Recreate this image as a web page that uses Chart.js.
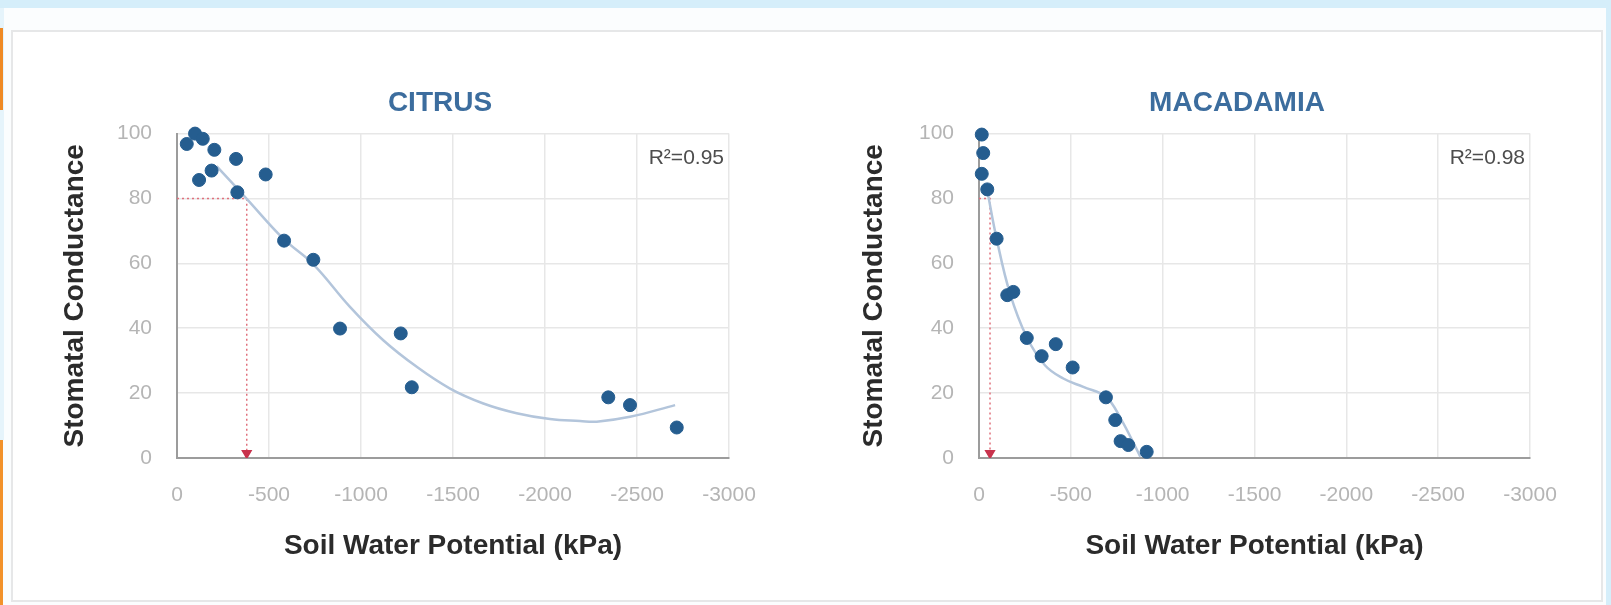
<!DOCTYPE html>
<html>
<head>
<meta charset="utf-8">
<script src="https://cdn.jsdelivr.net/npm/chart.js@4.4.1/dist/chart.umd.min.js"></script>
<style>
  html, body { margin: 0; padding: 0; background: #ffffff; overflow: hidden; }
  #page { position: relative; width: 1611px; height: 605px; overflow: hidden; background: #fbfdfe; }
  .strip { position: absolute; }
  #card { position: absolute; left: 11px; top: 30px; width: 1592px; height: 572px;
          background: #ffffff; border: 2px solid #e6e7e8; box-sizing: border-box; }
  canvas { position: absolute; }
</style>
</head>
<body>
<div id="page">
  <div class="strip" style="left:0;top:0;width:1611px;height:8px;background:#d5eefa;"></div>
  <div class="strip" style="left:1606px;top:0;width:5px;height:605px;background:#d5eefa;"></div>
  <div class="strip" style="left:0;top:8px;width:4px;height:432px;background:#e6f4fb;"></div>
  <div class="strip" style="left:0;top:28px;width:3px;height:82px;background:#ef8a25;"></div>
  <div class="strip" style="left:0;top:440px;width:3px;height:165px;background:#f2922b;"></div>
  <div id="card"></div>
  <canvas id="citrusChart" width="766" height="540" style="left:57px;top:60px;"></canvas>
  <canvas id="macChart" width="762" height="540" style="left:856px;top:60px;"></canvas>
</div>
<script>
// citrus measurements
const citrusX = [-53, -98, -140, -203, -321, -188, -120, -482, -328, -582, -741, -886, -1216, -1276, -2344, -2462, -2716];
const citrusY = [96.8, 100, 98.4, 95, 92.2, 88.6, 85.7, 87.4, 81.9, 67, 61.1, 39.9, 38.4, 21.8, 18.7, 16.3, 9.4];
// citrus trend line
const citrusFitX = [-215, -379, -578, -741, -940, -1121, -1303, -1484, -1665, -1846, -2027, -2190, -2281, -2462, -2707];
const citrusFitY = [90, 79.9, 67.6, 59.7, 46.6, 36.3, 28.1, 21.4, 16.8, 13.8, 12, 11.4, 11.2, 12.7, 16.3];
// citrus 80% guide
const citrusGuideX = [0, -379, -379];
const citrusGuideY = [80, 80, 1.5];

// macadamia measurements
const macX = [-15, -23, -15, -45, -96, -154, -187, -260, -341, -418, -510, -691, -742, -771, -813, -913];
const macY = [99.7, 94, 87.6, 82.8, 67.6, 50.2, 51.2, 37, 31.4, 35.1, 27.9, 18.7, 11.7, 5.2, 4, 1.9];
const macFitX = [-45, -96, -169, -260, -359, -459, -568, -691, -776, -851, -878];
const macFitY = [82.5, 67.6, 50.7, 37.3, 28.6, 24.5, 21.9, 18.9, 11.7, 3.5, 0.4];
const macGuideX = [0, -60, -60];
const macGuideY = [80, 80, 1.5];

const xTicks = [0, -500, -1000, -1500, -2000, -2500, -3000];
const yTicks = [0, 20, 40, 60, 80, 100];

const xTitle = "Soil Water Potential (kPa)";
const yTitle = "Stomatal Conductance";

function toPoints(xs, ys) {
  return xs.map((x, i) => ({ x: x, y: ys[i] }));
}

const rSquaredPlugin = {
  id: "rSquared",
  afterDatasetsDraw(chart, args, opts) {
    const { ctx, chartArea } = chart;
    ctx.save();
    ctx.font = "21px 'Liberation Sans', Arial, sans-serif";
    ctx.fillStyle = "#4d4d4d";
    ctx.textAlign = "right";
    ctx.textBaseline = "middle";
    ctx.fillText(opts.text, chartArea.right - 5, chartArea.top + 25);
    ctx.restore();
  },
};

// the title sits a bit left of the plot centre in the picture
const titleShiftPlugin = {
  id: "titleShift",
  afterLayout(chart, args, opts) {
    const tb = chart.titleBlock;
    if (!tb) return;
    const w = tb.right - tb.left;
    tb.left = opts.center - w / 2;
    tb.right = tb.left + w;
  },
};

function makeChart(id, cfg) {
  const ctx = document.getElementById(id).getContext("2d");
  return new Chart(ctx, {
    type: "scatter",
    data: {
      datasets: [
        {
          label: "measured",
          data: toPoints(cfg.x, cfg.y),
          backgroundColor: "#255d8f",
          borderColor: "#255d8f",
          pointRadius: 6.5,
          pointHoverRadius: 6.5,
          clip: 12,
        },
        {
          label: "fit",
          type: "line",
          data: toPoints(cfg.fitX, cfg.fitY),
          borderColor: "#b3c5db",
          borderWidth: 2.5,
          pointRadius: 0,
          tension: 0.4,
          fill: false,
        },
        {
          label: "guide",
          type: "line",
          data: toPoints(cfg.guideX, cfg.guideY),
          borderColor: "#e0707c",
          borderWidth: 1.5,
          borderDash: [2, 3],
          pointStyle: "triangle",
          pointRotation: 180,
          pointRadius: [0, 0, 5],
          pointBackgroundColor: "#c8334d",
          pointBorderColor: "#c8334d",
          tension: 0,
          fill: false,
        },
      ],
    },
    options: {
      responsive: false,
      animation: false,
      devicePixelRatio: 1,
      layout: { padding: { top: 0, right: cfg.padRight, bottom: 0, left: 0 } },
      plugins: {
        legend: { display: false },
        tooltip: { enabled: false },
        title: {
          display: true,
          text: cfg.title,
          color: "#3c6d9e",
          font: { family: "'Liberation Sans', Arial, sans-serif", size: 28, weight: "bold" },
          padding: { top: 26, bottom: 14 },
        },
        titleShift: { center: cfg.titleCenter },
        rSquared: { text: cfg.r2 },
      },
      scales: {
        x: {
          type: "linear",
          min: -3000,
          max: 0,
          reverse: true,
          afterBuildTicks: (scale) => {
            scale.ticks = xTicks.map((v) => ({ value: v }));
          },
          afterFit: (scale) => {
            scale.height = 142;
          },
          ticks: {
            color: "#b5b5b5",
            padding: 25,
            maxRotation: 0,
            font: { family: "'Liberation Sans', Arial, sans-serif", size: 21 },
            callback: (v) => String(v),
          },
          grid: { color: "#e7e7e7", lineWidth: 1.5, drawTicks: false },
          border: { color: "#9c9c9c", width: 2 },
          title: {
            display: true,
            text: xTitle,
            color: "#2b2b2b",
            font: { family: "'Liberation Sans', Arial, sans-serif", size: 28, weight: "bold" },
            padding: { top: 0, bottom: 37 },
          },
        },
        y: {
          min: 0,
          max: 100,
          afterBuildTicks: (scale) => {
            scale.ticks = yTicks.map((v) => ({ value: v }));
          },
          afterFit: (scale) => {
            scale.width = cfg.yWidth;
          },
          ticks: {
            color: "#b5b5b5",
            padding: 25,
            font: { family: "'Liberation Sans', Arial, sans-serif", size: 21 },
          },
          grid: { color: "#e7e7e7", lineWidth: 1.5, drawTicks: false },
          border: { color: "#9c9c9c", width: 2 },
          title: {
            display: true,
            text: yTitle,
            color: "#2b2b2b",
            font: { family: "'Liberation Sans', Arial, sans-serif", size: 28, weight: "bold" },
            padding: { top: 1, bottom: 0 },
          },
        },
      },
    },
    plugins: [titleShiftPlugin, rSquaredPlugin],
  });
}

makeChart("citrusChart", {
  title: "CITRUS",
  titleCenter: 383,
  r2: "R\u00B2=0.95",
  x: citrusX, y: citrusY,
  fitX: citrusFitX, fitY: citrusFitY,
  guideX: citrusGuideX, guideY: citrusGuideY,
  yWidth: 120,
  padRight: 94,
});

makeChart("macChart", {
  title: "MACADAMIA",
  titleCenter: 381,
  r2: "R\u00B2=0.98",
  x: macX, y: macY,
  fitX: macFitX, fitY: macFitY,
  guideX: macGuideX, guideY: macGuideY,
  yWidth: 123,
  padRight: 88,
});
</script>
</body>
</html>
